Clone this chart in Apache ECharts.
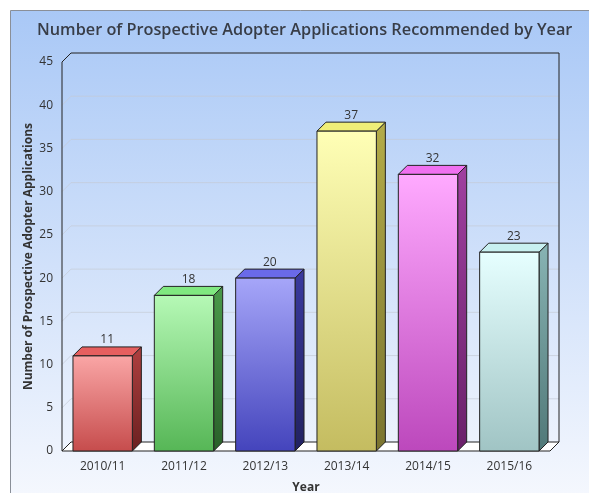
<!DOCTYPE html>
<html>
<head>
<meta charset="utf-8">
<script src="https://cdn.jsdelivr.net/npm/echarts@6/dist/echarts.min.js"></script>
<style>
  html, body { margin: 0; padding: 0; background: #fff; }
  #main { width: 589px; height: 493px; }
</style>
</head>
<body>
<div id="main"></div>
<script>
// data
var years = ['2010/11', '2011/12', '2012/13', '2013/14', '2014/15', '2015/16'];
var applications = [11, 18, 20, 37, 32, 23];
var yMax = 45;
var yStep = 5;

// bar colours: [front top, front bottom, top face, side top, side bottom]
var barColors = [
    ['#faa6a6', '#c64c4c', '#e65f5f', '#b04040', '#6a2020'],
    ['#b6f9b6', '#56b656', '#80e880', '#4a9a4a', '#2a602a'],
    ['#a6a6f9', '#4444bc', '#6a6ae8', '#3a3aa0', '#222260'],
    ['#ffffb6', '#c4bc60', '#f0ee78', '#b4ac48', '#7a7430'],
    ['#ffaaff', '#bc48bc', '#f070f0', '#a040a0', '#6a206a'],
    ['#e6ffff', '#a0c4c4', '#c8f0f0', '#88b4b4', '#507878']
];

var DX = 9, DY = 9;   // depth of the 3d effect
var FONT = '"Open Sans", "DejaVu Sans", sans-serif';

var myChart = echarts.init(document.getElementById('main'));

function vGrad(c1, c2) {
    return new echarts.graphic.LinearGradient(0, 0, 0, 1, [
        { offset: 0, color: c1 }, { offset: 1, color: c2 }
    ]);
}

// back wall, floor and side lines, built from the axes
function renderFrame(params, api) {
    var cs = params.coordSys;
    var x0 = cs.x, x1 = cs.x + cs.width;
    var yb = cs.y + cs.height, yt = cs.y;
    var children = [];
    // grid lines on back wall and left wall
    for (var v = yStep; v < yMax; v += yStep) {
        var y = api.coord([0, v])[1];
        children.push({
            type: 'polyline',
            shape: { points: [[x0, y], [x0 + DX, y - DY], [x1 + DX, y - DY]] },
            style: { stroke: 'rgba(196,202,214,0.7)', lineWidth: 1, fill: null },
            silent: true
        });
    }
    // floor
    children.push({
        type: 'polygon',
        shape: { points: [[x0, yb], [x1, yb], [x1 + DX, yb - DY], [x0 + DX, yb - DY]] },
        style: { fill: '#ffffff', stroke: '#222', lineWidth: 1 },
        silent: true
    });
    // back wall top + right edge, left wall edge
    children.push({
        type: 'polyline',
        shape: { points: [[x0, yb], [x0, yt], [x0 + DX, yt - DY], [x1 + DX, yt - DY], [x1 + DX, yb - DY]] },
        style: { stroke: '#222', lineWidth: 1, fill: null },
        silent: true
    });
    return { type: 'group', children: children };
}

function renderBar(params, api) {
    var idx = params.dataIndex;
    var top = api.coord([api.value(0), api.value(1)]);
    var base = api.coord([api.value(0), 0]);
    var w = api.size([1, 0])[0] * 0.73;
    var l = top[0] - w / 2, r = top[0] + w / 2;
    var t = top[1], b = base[1];
    var c = barColors[idx];
    return {
        type: 'group',
        children: [
            {
                type: 'polygon',
                shape: { points: [[r, b], [r, t], [r + DX, t - DY], [r + DX, b - DY]] },
                style: { fill: vGrad(c[3], c[4]), stroke: '#222', lineWidth: 1 }
            },
            {
                type: 'polygon',
                shape: { points: [[l, t], [r, t], [r + DX, t - DY], [l + DX, t - DY]] },
                style: { fill: c[2], stroke: '#222', lineWidth: 1 }
            },
            {
                type: 'rect',
                shape: { x: l, y: t, width: w, height: b - t },
                style: { fill: vGrad(c[0], c[1]), stroke: '#222', lineWidth: 1 }
            },
            {
                type: 'text',
                x: (l + r + DX) / 2,
                y: t - DY - 1,
                style: {
                    text: String(api.value(1)),
                    fill: '#333',
                    font: '12px ' + FONT,
                    align: 'center',
                    verticalAlign: 'bottom'
                }
            }
        ]
    };
}

var option = {
    animation: false,
    graphic: [{
        type: 'rect',
        left: 10, top: 10, z: -10,
        shape: { width: 600, height: 500 },
        style: {
            fill: vGrad('#a9c8f6', '#f7f9fe'),
            stroke: '#8a8f98', lineWidth: 1
        },
        silent: true
    }],
    title: {
        text: 'Number of Prospective Adopter Applications Recommended by Year',
        left: 32,
        top: 17,
        textStyle: { fontFamily: FONT, fontSize: 16.3, fontWeight: 600, color: '#383d47' }
    },
    grid: { left: 62, right: 39, top: 62, bottom: 42, containLabel: false, outerBoundsMode: 'none' },
    xAxis: {
        type: 'category',
        data: years,
        name: 'Year',
        nameLocation: 'middle',
        nameGap: 31,
        nameMoveOverlap: false,
        nameTextStyle: { fontFamily: FONT, fontSize: 12, fontWeight: 'bold', color: '#333' },
        axisLine: { show: false },
        axisTick: { show: false },
        axisLabel: { fontFamily: FONT, fontSize: 12, color: '#333', margin: 10 },
        splitLine: { show: false }
    },
    yAxis: {
        type: 'value',
        min: 0,
        max: yMax,
        interval: yStep,
        name: 'Number of Prospective Adopter Applications',
        nameLocation: 'middle',
        nameGap: 27,
        nameMoveOverlap: false,
        nameTextStyle: { fontFamily: FONT, fontSize: 12, fontWeight: 'bold', color: '#333' },
        axisLine: { show: false },
        axisTick: { show: false },
        axisLabel: { fontFamily: FONT, fontSize: 12, color: '#333', margin: 9 },
        splitLine: { show: false }
    },
    series: [
        {
            type: 'custom',
            renderItem: renderFrame,
            data: [[0, 0]],
            z: 1,
            silent: true
        },
        {
            type: 'custom',
            renderItem: renderBar,
            data: applications.map(function (v, i) { return [i, v]; }),
            encode: { x: 0, y: 1 },
            z: 2
        }
    ]
};
myChart.setOption(option);
</script>
</body>
</html>
